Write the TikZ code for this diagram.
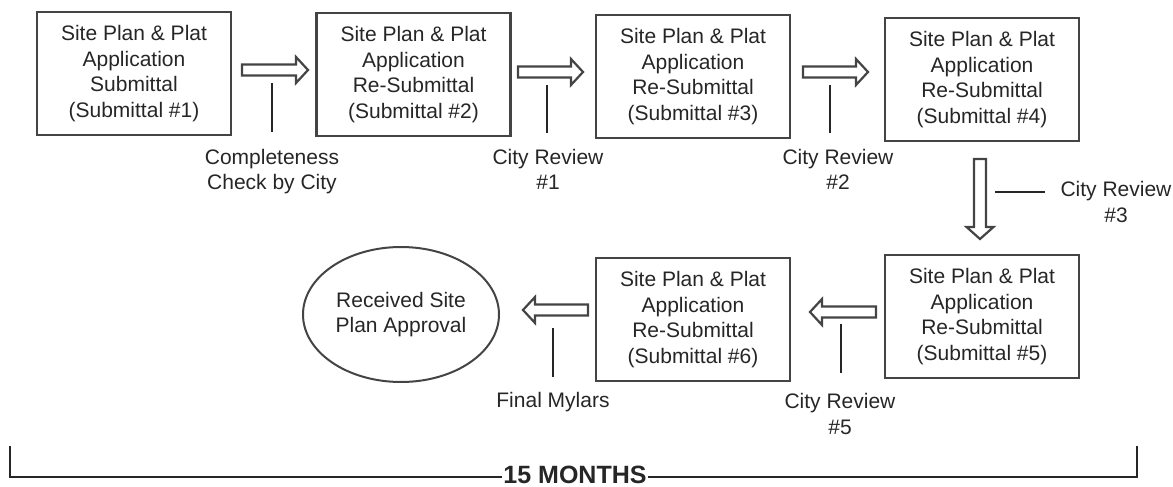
\documentclass[tikz,border=0pt]{standalone}
\usepackage{fontspec}
\setmainfont{Liberation Sans}
\usetikzlibrary{shapes.geometric}
\definecolor{linec}{HTML}{444444}
\definecolor{textc}{HTML}{262626}
\newcommand\arrR[3]{\draw[hollowarr] (#1,#3-5.5) -- (#2-12,#3-5.5) -- (#2-12,#3-13) -- (#2,#3) -- (#2-12,#3+13) -- (#2-12,#3+5.5) -- (#1,#3+5.5) -- cycle;}
\newcommand\arrL[3]{\draw[hollowarr] (#2,#3-5.5) -- (#1+12,#3-5.5) -- (#1+12,#3-13) -- (#1,#3) -- (#1+12,#3+13) -- (#1+12,#3+5.5) -- (#2,#3+5.5) -- cycle;}
\newcommand\arrD[3]{\draw[hollowarr] (#1-6,#2) -- (#1-6,#3-12) -- (#1-13.5,#3-12) -- (#1,#3) -- (#1+13.5,#3-12) -- (#1+6,#3-12) -- (#1+6,#2) -- cycle;}
\begin{document}
\begin{tikzpicture}[x=1pt,y=-1pt,
  every node/.style={text=textc, font=\fontsize{21}{25.5}\selectfont, align=center},
  box/.style={draw=linec, line width=2.5pt, minimum width=194pt, minimum height=123pt, inner sep=0pt},
  oval/.style={ellipse, draw=linec, line width=2pt, minimum width=196pt, minimum height=135pt, inner sep=0pt},
  hollowarr/.style={draw=linec, line width=2.2pt, fill=white, line join=miter},
  tick/.style={draw=textc, line width=1.3pt},
  lbl/.style={inner sep=0pt},
  bracket/.style={draw=textc, line width=1.3pt}]
\useasboundingbox (0,0) rectangle (1173,487);
% boxes
\node[box] (s1) at (134,73.5) {Site Plan \& Plat\\Application\\Submittal\\(Submittal \#1)};
\node[box] (s2) at (413.5,74.5) {Site Plan \& Plat\\Application\\Re-Submittal\\(Submittal \#2)};
\node[box] (s3) at (693,76.5) {Site Plan \& Plat\\Application\\Re-Submittal\\(Submittal \#3)};
\node[box] (s4) at (982,79.5) {Site Plan \& Plat\\Application\\Re-Submittal\\(Submittal \#4)};
\node[box] (s5) at (982,316.5) {Site Plan \& Plat\\Application\\Re-Submittal\\(Submittal \#5)};
\node[box] (s6) at (693,319.5) {Site Plan \& Plat\\Application\\Re-Submittal\\(Submittal \#6)};
\node[oval] (ok) at (401,314.5) {Received Site\\Plan Approval};
% hollow arrows
\arrR{242}{308}{70}
\arrR{518}{583}{72}
\arrR{803}{868}{72}
\arrD{980}{159}{239}
\arrL{810}{876}{312}
\arrL{523}{588}{310}
% ticks
\draw[tick] (272,83) -- (272,132);
\draw[tick] (547,85) -- (547,133);
\draw[tick] (830,85) -- (830,133);
\draw[tick] (995,192) -- (1045,192);
\draw[tick] (841,324) -- (841,373);
\draw[tick] (553,328) -- (553,377);
% labels
\node[lbl] (l1) at (272,171.5) {Completeness\\Check by City};
\node[lbl] (l2) at (548,169.5) {City Review\\\#1};
\node[lbl] (l3) at (838,169.5) {City Review\\\#2};
\node[lbl] (l4) at (1116,202) {City Review\\\#3};
\node[lbl] (l5) at (840,414) {City Review\\\#5};
\node[lbl] (l6) at (553,402) {Final Mylars};
% bracket
\coordinate (bl) at (10,446);
\coordinate (br) at (1137,446);
\draw[bracket] (bl) -- (bl |- 0,477) -- (br |- 0,477) -- (br);
\node[fill=white, inner sep=1.5pt, font=\fontsize{25}{28}\selectfont\bfseries] (dur) at (575,474.5) {15 MONTHS};
\end{tikzpicture}
\end{document}
